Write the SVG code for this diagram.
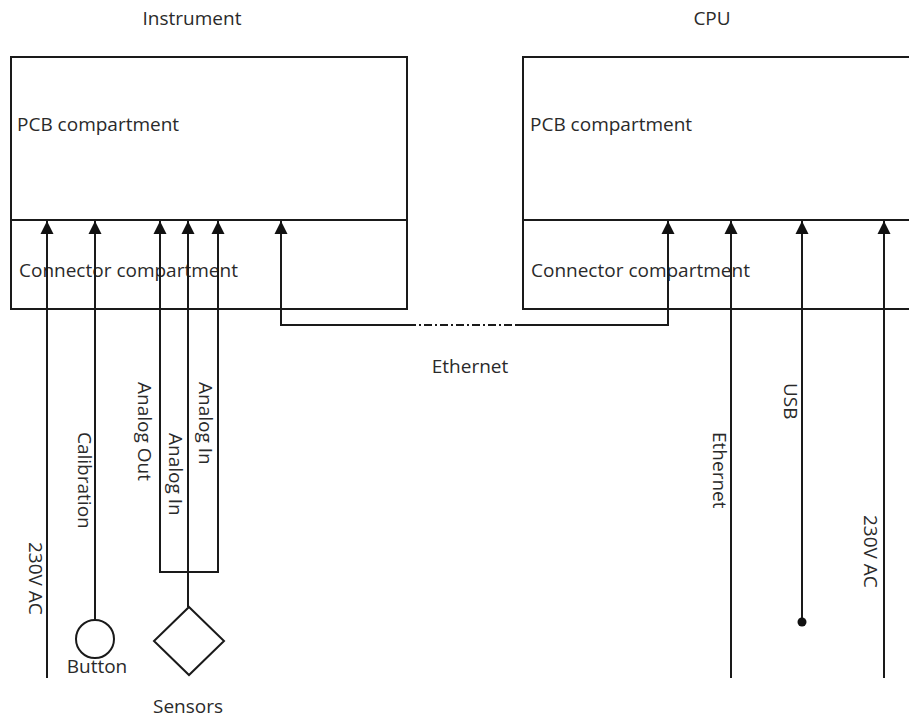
<svg xmlns="http://www.w3.org/2000/svg" width="909" height="718" viewBox="0 0 909 718">
<style>
text{font-family:"Open Sans","Liberation Sans",sans-serif;font-size:19px;fill:#2a2a2a}
.box{fill:none;stroke:#1a1a1a;stroke-width:2}
.ln{fill:none;stroke:#1a1a1a;stroke-width:2}
.dd{fill:none;stroke:#1a1a1a;stroke-width:2;stroke-dasharray:8 3 2 3}
</style>
<defs>
<marker id="arr" markerUnits="userSpaceOnUse" markerWidth="14" markerHeight="14" viewBox="0 0 14 14" refX="13" refY="7" orient="auto">
<path d="M0,0.5 L13,7 L0,13.5 z" fill="#111"/>
</marker>
</defs>
<g id="title-instrument"><text x="192" y="25" text-anchor="middle">Instrument</text></g>
<g id="title-cpu"><text x="712" y="25" text-anchor="middle">CPU</text></g>
<g id="instrument">
<rect class="box" x="11" y="57" width="396" height="252"/>
<line class="ln" x1="11" y1="220" x2="407" y2="220"/>
<text x="17" y="131">PCB compartment</text>
<text x="19" y="277">Connector compartment</text>
</g>
<g id="cpu">
<rect class="box" x="523" y="57" width="420" height="252"/>
<line class="ln" x1="523" y1="220" x2="909" y2="220"/>
<text x="530" y="131">PCB compartment</text>
<text x="531" y="277">Connector compartment</text>
</g>
<g id="button">
<circle cx="95" cy="639" r="19" fill="none" stroke="#1a1a1a" stroke-width="2"/>
<text x="97" y="673" text-anchor="middle">Button</text>
</g>
<g id="sensors">
<path d="M189,607 L224,641 L189,675 L154,641 z" fill="none" stroke="#1a1a1a" stroke-width="2"/>
<text x="188" y="713" text-anchor="middle">Sensors</text>
</g>
<g id="connectors">
<line class="ln" x1="47" y1="678" x2="47" y2="221" marker-end="url(#arr)"/>
<line class="ln" x1="95" y1="620" x2="95" y2="221" marker-end="url(#arr)"/>
<line class="ln" x1="160" y1="572" x2="160" y2="221" marker-end="url(#arr)"/>
<line class="ln" x1="188" y1="607" x2="188" y2="221" marker-end="url(#arr)"/>
<line class="ln" x1="218" y1="572" x2="218" y2="221" marker-end="url(#arr)"/>
<line class="ln" x1="159" y1="572" x2="219" y2="572"/>
<line class="ln" x1="281" y1="325" x2="281" y2="221" marker-end="url(#arr)"/>
<line class="ln" x1="668" y1="325" x2="668" y2="221" marker-end="url(#arr)"/>
<path class="ln" d="M280,325 L408,325"/>
<path class="dd" d="M408,325 L517,325"/>
<path class="ln" d="M517,325 L669,325"/>
<line class="ln" x1="731" y1="678" x2="731" y2="221" marker-end="url(#arr)"/>
<line class="ln" x1="802" y1="622" x2="802" y2="221" marker-end="url(#arr)"/>
<circle cx="802" cy="622" r="4.5" fill="#111"/>
<line class="ln" x1="884" y1="678" x2="884" y2="221" marker-end="url(#arr)"/>
<text x="470" y="373" text-anchor="middle">Ethernet</text>
<text transform="translate(29,542) rotate(90)">230V AC</text>
<text transform="translate(78,432) rotate(90)">Calibration</text>
<text transform="translate(138,382) rotate(90)">Analog Out</text>
<text transform="translate(169,433) rotate(90)">Analog In</text>
<text transform="translate(199,382) rotate(90)">Analog In</text>
<text transform="translate(713,432) rotate(90)">Ethernet</text>
<text transform="translate(784,383) rotate(90)">USB</text>
<text transform="translate(864,515) rotate(90)">230V AC</text>
</g>
</svg>
